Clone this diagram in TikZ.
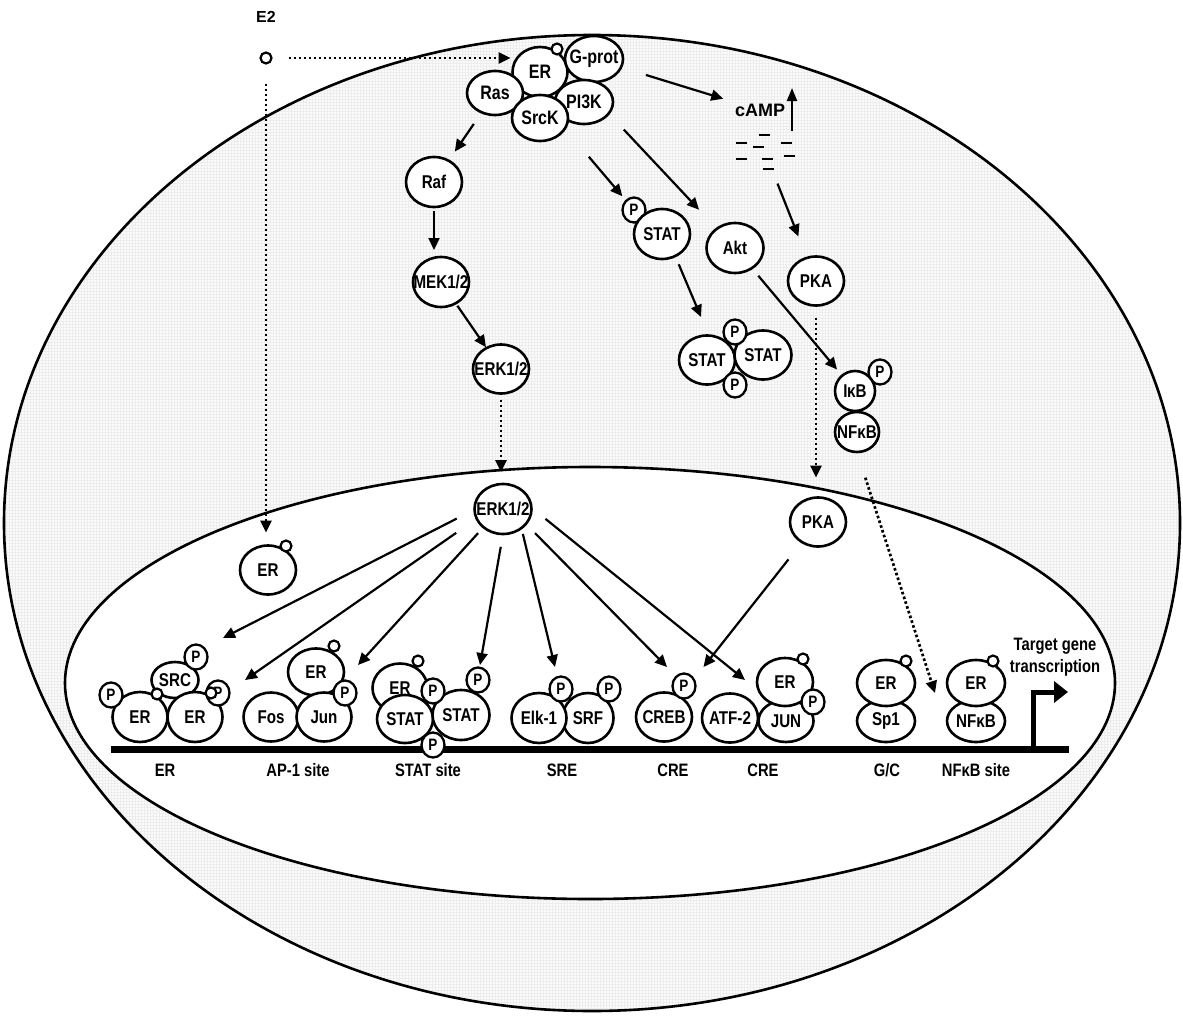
\documentclass[tikz,border=0pt]{standalone}
\usepackage{fontspec}
\setmainfont{Liberation Sans}[FakeStretch=0.82]
\newfontfamily\plainsans{Liberation Sans}
\usetikzlibrary{shapes.geometric,arrows.meta,patterns}

% zero-width label so that the text never widens its ellipse
\newcommand{\mtxt}[1]{\makebox[0pt]{#1}}
\newcommand{\fsz}[1]{\fontsize{#1}{#1}\selectfont\bfseries}

\tikzset{
  mol/.style={ellipse, draw, line width=2.6pt, fill=white, inner sep=0pt,
              outer sep=0pt, font=\fsz{18.5}},
  sz/.style 2 args={minimum width=#1pt, minimum height=#2pt},
  topmol/.style={mol, font=\fsz{19.5}},
  pho/.style={mol, line width=2.3pt, minimum width=23pt, minimum height=25pt,
              font=\fsz{16.5}},
  lig/.style={circle, draw, fill=white, line width=2.2pt, minimum size=11pt,
              inner sep=0pt},
  arr/.style={line width=2.2pt, -{Triangle[length=12pt,width=11pt]}},
  dotarr/.style={arr, line width=2.7pt, dash pattern=on 2.6pt off 2.4pt},
  lbl/.style={font=\fsz{18}, inner sep=0pt},
}

\begin{document}
\begin{tikzpicture}[x=1pt, y=-1pt]
\useasboundingbox (0,0) rectangle (1183,1017);

% cell and nucleus
\fill[gray!3] (592,523) ellipse [x radius=588pt, y radius=488pt];
\fill[pattern=grid, pattern color=gray!14] (592,523) ellipse [x radius=588pt, y radius=488pt];
\draw[line width=2.6pt] (592,523) ellipse [x radius=588pt, y radius=488pt];
\draw[line width=2.6pt, fill=white] (590,683) ellipse [x radius=525pt, y radius=216pt];

% estradiol
\node[font=\plainsans\fontsize{16}{16}\selectfont\bfseries] (e2) at (266,17) {E2};
\node[lig] (lig) at (266,58) {};

% membrane signalling complex
\node[topmol, sz={55}{50}] (er1) at (540,72) {\mtxt{ER}};
\node[topmol, sz={58}{46}] (gprot) at (594,59) {\mtxt{G-prot}};
\node[topmol, sz={56}{44}] (ras) at (495,93) {\mtxt{Ras}};
\node[topmol, sz={58}{44}] (pi3k) at (584,102) {\mtxt{PI3K}};
\node[topmol, sz={56}{46}] (srck) at (540,118) {\mtxt{SrcK}};
\node[lig] (er1l) at (557,49) {};

% cAMP
\node[font=\plainsans\fontsize{18}{18}\selectfont\bfseries, inner sep=2pt] (camp) at (760,110) {cAMP};
\draw[line width=2.2pt, -{Triangle[length=13pt,width=10pt]}] (792,131) -- (792,88);
\foreach \px/\py in {764/135, 741/143, 758/147, 786/143, 741/159, 789/156, 767/159, 768/169}
  \draw[line width=2.6pt] (\px-5.5,\py) -- (\px+5.5,\py);
\coordinate (pool) at (765,152);

% cytoplasmic kinases
\node[mol, sz={56}{50}] (raf) at (434,182) {\mtxt{Raf}};
\node[mol, sz={56}{50}] (mek) at (441,282) {\mtxt{MEK1/2}};
\node[mol, sz={56}{49}] (erk) at (501,369) {\mtxt{ERK1/2}};

\node[pho] (statp) at (634,210) {P};
\node[mol, sz={56}{50}] (stat) at (662,234) {\mtxt{STAT}};
\node[mol, sz={57}{50}] (akt) at (735,248) {\mtxt{Akt}};
\node[mol, sz={56}{49}] (pka) at (816,281) {\mtxt{PKA}};

\node[mol, sz={56}{49}] (statl) at (707,360) {\mtxt{STAT}};
\node[mol, sz={57}{49}] (statr) at (763,355) {\mtxt{STAT}};
\node[pho] (dpt) at (735,332) {P};
\node[pho] (dpb) at (735,385) {P};

\node[pho] (ikbp) at (880,372) {P};
\node[mol, sz={40}{40}] (ikb) at (855,391) {\mtxt{I\kern-0.5pt κB}};
\node[mol, sz={44}{40}] (nfkbc) at (857,432) {\mtxt{NFκB}};

% nucleus
\node[mol, sz={57}{50}] (erkn) at (503,509) {\mtxt{ERK1/2}};
\node[mol, sz={56}{49}] (ern) at (268,570) {\mtxt{ER}};
\node[lig] (ernl) at (286,546) {};
\node[mol, sz={56}{49}] (pkan) at (818,522) {\mtxt{PKA}};

% DNA
\draw[line width=7pt] (111,749) -- (1069,749);
\draw[line width=5pt, line join=miter, -{Triangle[length=14pt,width=21pt]}]
  (1033,752) -- (1033,692) -- (1068,692);
\node[align=center, font=\fontsize{18}{21.5}\selectfont\bfseries, inner sep=0pt] (tgt)
  at (1055,657) {Target gene\\transcription};

% ER site
\node[mol, sz={47}{36}] (src) at (175,680) {\mtxt{SRC}};
\node[mol, sz={55}{50}] (erA) at (140,717) {\mtxt{ER}};
\node[mol, sz={55}{50}] (erB) at (195,717) {\mtxt{ER}};
\node[pho] (ep1) at (111,695) {P};
\node[pho] (ep2) at (196,657) {P};
\node[pho] (ep3) at (218,693) {P};
\node[lig] (erAl) at (157,694) {};
\node[lig] (erBl) at (211,693) {};

% AP-1 site
\node[mol, sz={56}{47}] (erap) at (316,672) {\mtxt{ER}};
\node[mol, sz={55}{49}] (fos) at (271,717) {\mtxt{Fos}};
\node[mol, sz={55}{49}] (jun) at (324,717) {\mtxt{Jun}};
\node[pho] (junp) at (345,693) {P};
\node[lig] (erapl) at (334,646) {};

% STAT site
\node[mol, sz={55}{49}] (erst) at (400,688) {\mtxt{ER}};
\node[mol, sz={56}{48}] (stl) at (405,719) {\mtxt{STAT}};
\node[mol, sz={57}{50}] (str) at (461,715) {\mtxt{STAT}};
\node[pho] (stp1) at (433,691) {P};
\node[pho] (stp2) at (433,745) {P};
\node[pho] (stp3) at (478,680) {P};
\node[lig] (erstl) at (418,661) {};

% SRE
\node[mol, sz={51}{50}] (srf) at (588,718) {\mtxt{SRF}};
\node[mol, sz={55}{50}] (elk) at (539,718) {\mtxt{Elk-1}};
\node[pho] (elkp) at (561,689) {P};
\node[pho] (srfp) at (609,689) {P};

% CRE (CREB)
\node[mol, sz={56}{49}] (creb) at (664,717) {\mtxt{CREB}};
\node[pho] (crebp) at (684,686) {P};

% CRE (ATF-2/JUN)
\node[mol, sz={56}{49}] (atf) at (730,718) {\mtxt{ATF-2}};
\node[mol, sz={55}{42}] (jun2) at (786,721) {\mtxt{JUN}};
\node[mol, sz={56}{48}] (er2) at (785,682) {\mtxt{ER}};
\node[pho] (jun2p) at (813,702) {P};
\node[lig] (er2l) at (803,659) {};

% G/C
\node[mol, sz={58}{42}] (sp1) at (886,721) {\mtxt{Sp1}};
\node[mol, sz={58}{46}] (ersp) at (886,683) {\mtxt{ER}};
\node[lig] (erspl) at (906,661) {};

% NFkB site
\node[mol, sz={58}{42}] (nfkbn) at (976,721) {\mtxt{NFκB}};
\node[mol, sz={58}{46}] (ernf) at (976,683) {\mtxt{ER}};
\node[lig] (ernfl) at (993,661) {};

% site labels
\node[lbl] (sl1) at (165,770) {ER};
\node[lbl] (sl2) at (298,770) {AP-1 site};
\node[lbl] (sl3) at (428,770) {STAT site};
\node[lbl] (sl4) at (562,770) {SRE};
\node[lbl] (sl5) at (673,770) {CRE};
\node[lbl] (sl6) at (763,770) {CRE};
\node[lbl] (sl7) at (887,770) {G/C};
\node[lbl] (sl8) at (976,770) {NFκB site};

% free arrow ends
\coordinate (dimin) at (701,317);
\coordinate (nfin) at (935,693);
\coordinate (f1) at (223,638);
\coordinate (f2) at (245,680);
\coordinate (f3) at (358,665);
\coordinate (f4) at (480,665);
\coordinate (f5) at (555,667);
\coordinate (f6) at (667,667);
\coordinate (f7) at (745,680);

% estradiol routes
\draw[dotarr, shorten <=16pt, shorten >=2pt] (lig) -- (lig -| er1.west);
\draw[dotarr, shorten <=19pt, shorten >=13pt] (lig) -- (lig |- ern.north);

% cytoplasmic signalling
\draw[arr, shorten <=26pt, shorten >=10pt] (gprot) -- (camp);
\draw[arr, shorten <=34pt, shorten >=23pt] (pool) -- (pka);
\draw[arr, shorten <=14pt, shorten >=11pt] (ras) -- (raf);
\draw[arr, shorten <=4pt, shorten >=7pt] (raf.south) -- (raf.south |- mek.north);
\draw[arr, shorten <=3pt, shorten >=1pt] (mek) -- (erk);
\draw[arr, shorten <=37pt, shorten >=6pt] (srck.-23) -- (statp);
\draw[arr, shorten <=22pt, shorten >=26pt] (pi3k.-25) -- (akt);
\draw[arr, shorten <=9pt] (stat.-59) -- (dimin);
\draw[arr, shorten <=10pt, shorten >=8pt] (akt) -- (ikb);

% nuclear entry
\draw[dotarr, shorten <=6pt, shorten >=12pt] (erk.south) -- (erk.south |- erkn.north);
\draw[dotarr, shorten <=12pt, shorten >=20pt] (pka.south) -- (pka.south |- pkan.north);
\draw[dotarr, shorten <=27pt] (nfkbc.south) -- (nfin);

% nuclear targets
\draw[arr, shorten <=22pt, shorten >=38pt] (pkan) -- (creb);
\draw[arr, shorten <=20pt] (erkn.181) -- (f1);
\draw[arr, shorten <=25pt] (erkn.200) -- (f2);
\draw[arr, shorten <=8pt] (erkn.223) -- (f3);
\draw[arr, shorten <=13pt] (erkn.270) -- (f4);
\draw[arr, shorten <=6pt] (erkn.-46) -- (f5);
\draw[arr, shorten <=13pt] (erkn.-33) -- (f6);
\draw[arr, shorten <=18pt] (erkn.3) -- (f7);
\end{tikzpicture}
\end{document}
